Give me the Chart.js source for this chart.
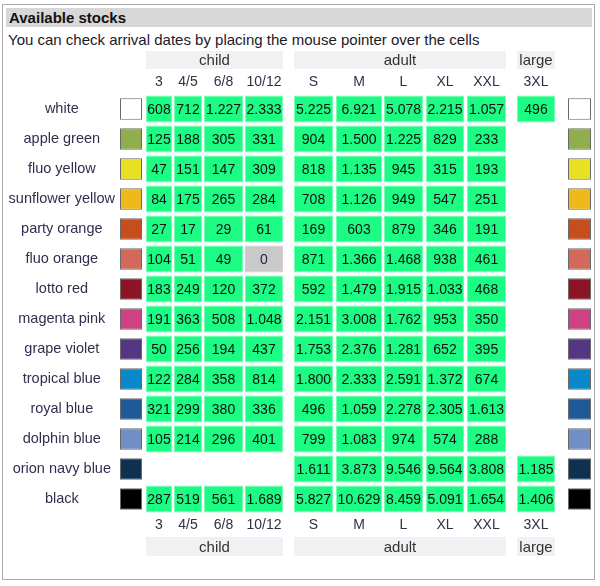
<!DOCTYPE html>
<html>
<head>
<meta charset="utf-8">
<script src="https://cdn.jsdelivr.net/npm/chart.js@4/dist/chart.umd.min.js"></script>
<style>
  body { margin: 0; background: #fff; font-family: "Liberation Sans", Arial, sans-serif; }
  #frame { position: absolute; left: 2px; top: 4px; width: 591px; height: 574px; border: 1px solid #a9a9a9; }
  #title { position: absolute; left: 6px; top: 8px; width: 583px; height: 19px; line-height: 19px;
           background: #d7d7d7; font-weight: bold; font-size: 15px; color: #111; padding-left: 3px; }
  #sub { position: absolute; left: 8px; top: 31px; font-size: 15px; line-height: 18px; color: #1a1a2a; }
  #wrap { position: absolute; left: 4px; top: 48px; }
</style>
</head>
<body>
<div id="frame"></div>
<div id="title">Available stocks</div>
<div id="sub">You can check arrival dates by placing the mouse pointer over the cells</div>
<div id="wrap"><canvas id="stockChart" width="588" height="526"></canvas></div>
<script>
// colours (rows)
const colorNames = ['white', 'apple green', 'fluo yellow', 'sunflower yellow', 'party orange',
  'fluo orange', 'lotto red', 'magenta pink', 'grape violet', 'tropical blue', 'royal blue',
  'dolphin blue', 'orion navy blue', 'black'];
const swatchColors = ['#ffffff', '#8fae4c', '#e9e021', '#efb91b', '#c84d1d', '#d2695a', '#8b1527',
  '#cc4282', '#553682', '#0a88ca', '#1f5997', '#6f8fc5', '#0e3152', '#000000'];

// size columns
const sizes = ['3', '4/5', '6/8', '10/12', 'S', 'M', 'L', 'XL', 'XXL', '3XL'];
const groups = ['child', 'adult', 'large'];
const groupOf = [0, 0, 0, 0, 1, 1, 1, 1, 1, 2];

// stock per size, one value per colour row
const size3   = [608, 125, 47, 84, 27, 104, 183, 191, 50, 122, 321, 105, null, 287];
const size45  = [712, 188, 151, 175, 17, 51, 249, 363, 256, 284, 299, 214, null, 519];
const size68  = [1227, 305, 147, 265, 29, 49, 120, 508, 194, 358, 380, 296, null, 561];
const size1012 = [2333, 331, 309, 284, 61, 0, 372, 1048, 437, 814, 336, 401, null, 1689];
const sizeS   = [5225, 904, 818, 708, 169, 871, 592, 2151, 1753, 1800, 496, 799, 1611, 5827];
const sizeM   = [6921, 1500, 1135, 1126, 603, 1366, 1479, 3008, 2376, 2333, 1059, 1083, 3873, 10629];
const sizeL   = [5078, 1225, 945, 949, 879, 1468, 1915, 1762, 1281, 2591, 2278, 974, 9546, 8459];
const sizeXL  = [2215, 829, 315, 547, 346, 938, 1033, 953, 652, 1372, 2305, 574, 9564, 5091];
const sizeXXL = [1057, 233, 193, 251, 191, 461, 468, 350, 395, 674, 1613, 288, 3808, 1654];
const size3XL = [496, null, null, null, null, null, null, null, null, null, null, null, 1185, 1406];
const stock = [size3, size45, size68, size1012, sizeS, sizeM, sizeL, sizeXL, sizeXXL, size3XL];

// layout: column spans on the x scale (1 unit = 1px)
const colSpan = [[26, 52], [54, 82], [84, 123], [125, 163], [174, 213], [216, 262], [264, 303],
  [306, 344], [347, 386], [397, 435]];
const leftSwatch = [0, 22];
const rightSwatch = [448, 471];

const fmt = v => String(v).replace(/\B(?=(\d{3})+(?!\d))/g, '.');

const cellDatasets = stock.map((col, c) => ({
  label: sizes[c],
  data: col.map(v => v === null ? null : colSpan[c]),
  values: col,
  backgroundColor: col.map(v => v === 0 ? '#c9c9c9' : '#1cfc84'),
  borderColor: col.map(v => v === 0 ? '#e2c6cc' : '#7bfcb6'),
  borderWidth: 1,
  borderSkipped: false,
  barPercentage: 0.9,
  categoryPercentage: 1
}));

const swatchDataset = span => ({
  label: 'swatch',
  data: colorNames.map(() => span),
  backgroundColor: swatchColors,
  borderColor: '#6a6a6a',
  borderWidth: 1,
  borderSkipped: false,
  barPercentage: 0.72,
  categoryPercentage: 1
});

const colCenters = colSpan.map(s => (s[0] + s[1]) / 2);

// values inside cells + group bands
const tablePlugin = {
  id: 'tablePlugin',
  beforeDatasetsDraw(chart) {
    const ctx = chart.ctx;
    const xs = chart.scales.x;
    const area = chart.chartArea;
    ctx.save();
    ctx.font = '15px "Liberation Sans", Arial, sans-serif';
    ctx.textAlign = 'center';
    ctx.textBaseline = 'middle';
    groups.forEach((g, gi) => {
      const cols = groupOf.map((v, i) => v === gi ? i : -1).filter(i => i >= 0);
      const x0 = xs.getPixelForValue(colSpan[cols[0]][0]);
      const x1 = xs.getPixelForValue(colSpan[cols[cols.length - 1]][1]);
      [[area.top - 43, area.top - 25], [area.bottom + 23, area.bottom + 42]].forEach(b => {
        ctx.fillStyle = '#f1f1f3';
        ctx.fillRect(x0, b[0], x1 - x0, b[1] - b[0]);
        ctx.fillStyle = '#333';
        ctx.fillText(g, (x0 + x1) / 2, (b[0] + b[1]) / 2 + 1);
      });
    });
    ctx.restore();
  },
  afterDatasetsDraw(chart) {
    const ctx = chart.ctx;
    ctx.save();
    ctx.font = '14px "Liberation Sans", Arial, sans-serif';
    ctx.textAlign = 'center';
    ctx.textBaseline = 'middle';
    chart.data.datasets.forEach((ds, di) => {
      if (!ds.values) return;
      chart.getDatasetMeta(di).data.forEach((bar, i) => {
        const v = ds.values[i];
        if (v === null) return;
        ctx.fillStyle = v === 0 ? '#22224a' : '#111';
        ctx.fillText(fmt(v), (bar.x + bar.base) / 2, bar.y + 1);
      });
    });
    ctx.restore();
  }
};

const sizeAxis = (position, h) => ({
  type: 'linear',
  position: position,
  min: 0,
  max: 471,
  grid: { display: false, drawTicks: false },
  border: { display: false },
  afterBuildTicks: scale => { scale.ticks = colCenters.map(v => ({ value: v })); },
  afterFit: scale => { scale.height = h; },
  ticks: {
    autoSkip: false,
    maxRotation: 0,
    padding: 3,
    color: '#2f2f48',
    font: { family: '"Liberation Sans", Arial, sans-serif', size: 14 },
    callback: (value, index) => sizes[index]
  }
});

const ctx = document.getElementById('stockChart').getContext('2d');
const stockChart = new Chart(ctx, {
  type: 'bar',
  data: {
    labels: colorNames,
    datasets: [swatchDataset(leftSwatch), ...cellDatasets, swatchDataset(rightSwatch)]
  },
  options: {
    indexAxis: 'y',
    responsive: false,
    animation: false,
    devicePixelRatio: 1,
    layout: { padding: { left: 0, right: 1, top: 0, bottom: 0 } },
    datasets: { bar: { grouped: false } },
    plugins: { legend: { display: false }, tooltip: { enabled: false } },
    scales: {
      x: sizeAxis('bottom', 60),
      x2: sizeAxis('top', 46),
      y: {
        type: 'category',
        position: 'left',
        grid: { display: false, drawTicks: false },
        border: { display: false },
        afterFit: scale => { scale.width = 116; },
        ticks: {
          crossAlign: 'center',
          padding: 5,
          color: '#332d4e',
          font: { family: '"Liberation Sans", Arial, sans-serif', size: 14.5 }
        }
      }
    }
  },
  plugins: [tablePlugin]
});
</script>
</body>
</html>
